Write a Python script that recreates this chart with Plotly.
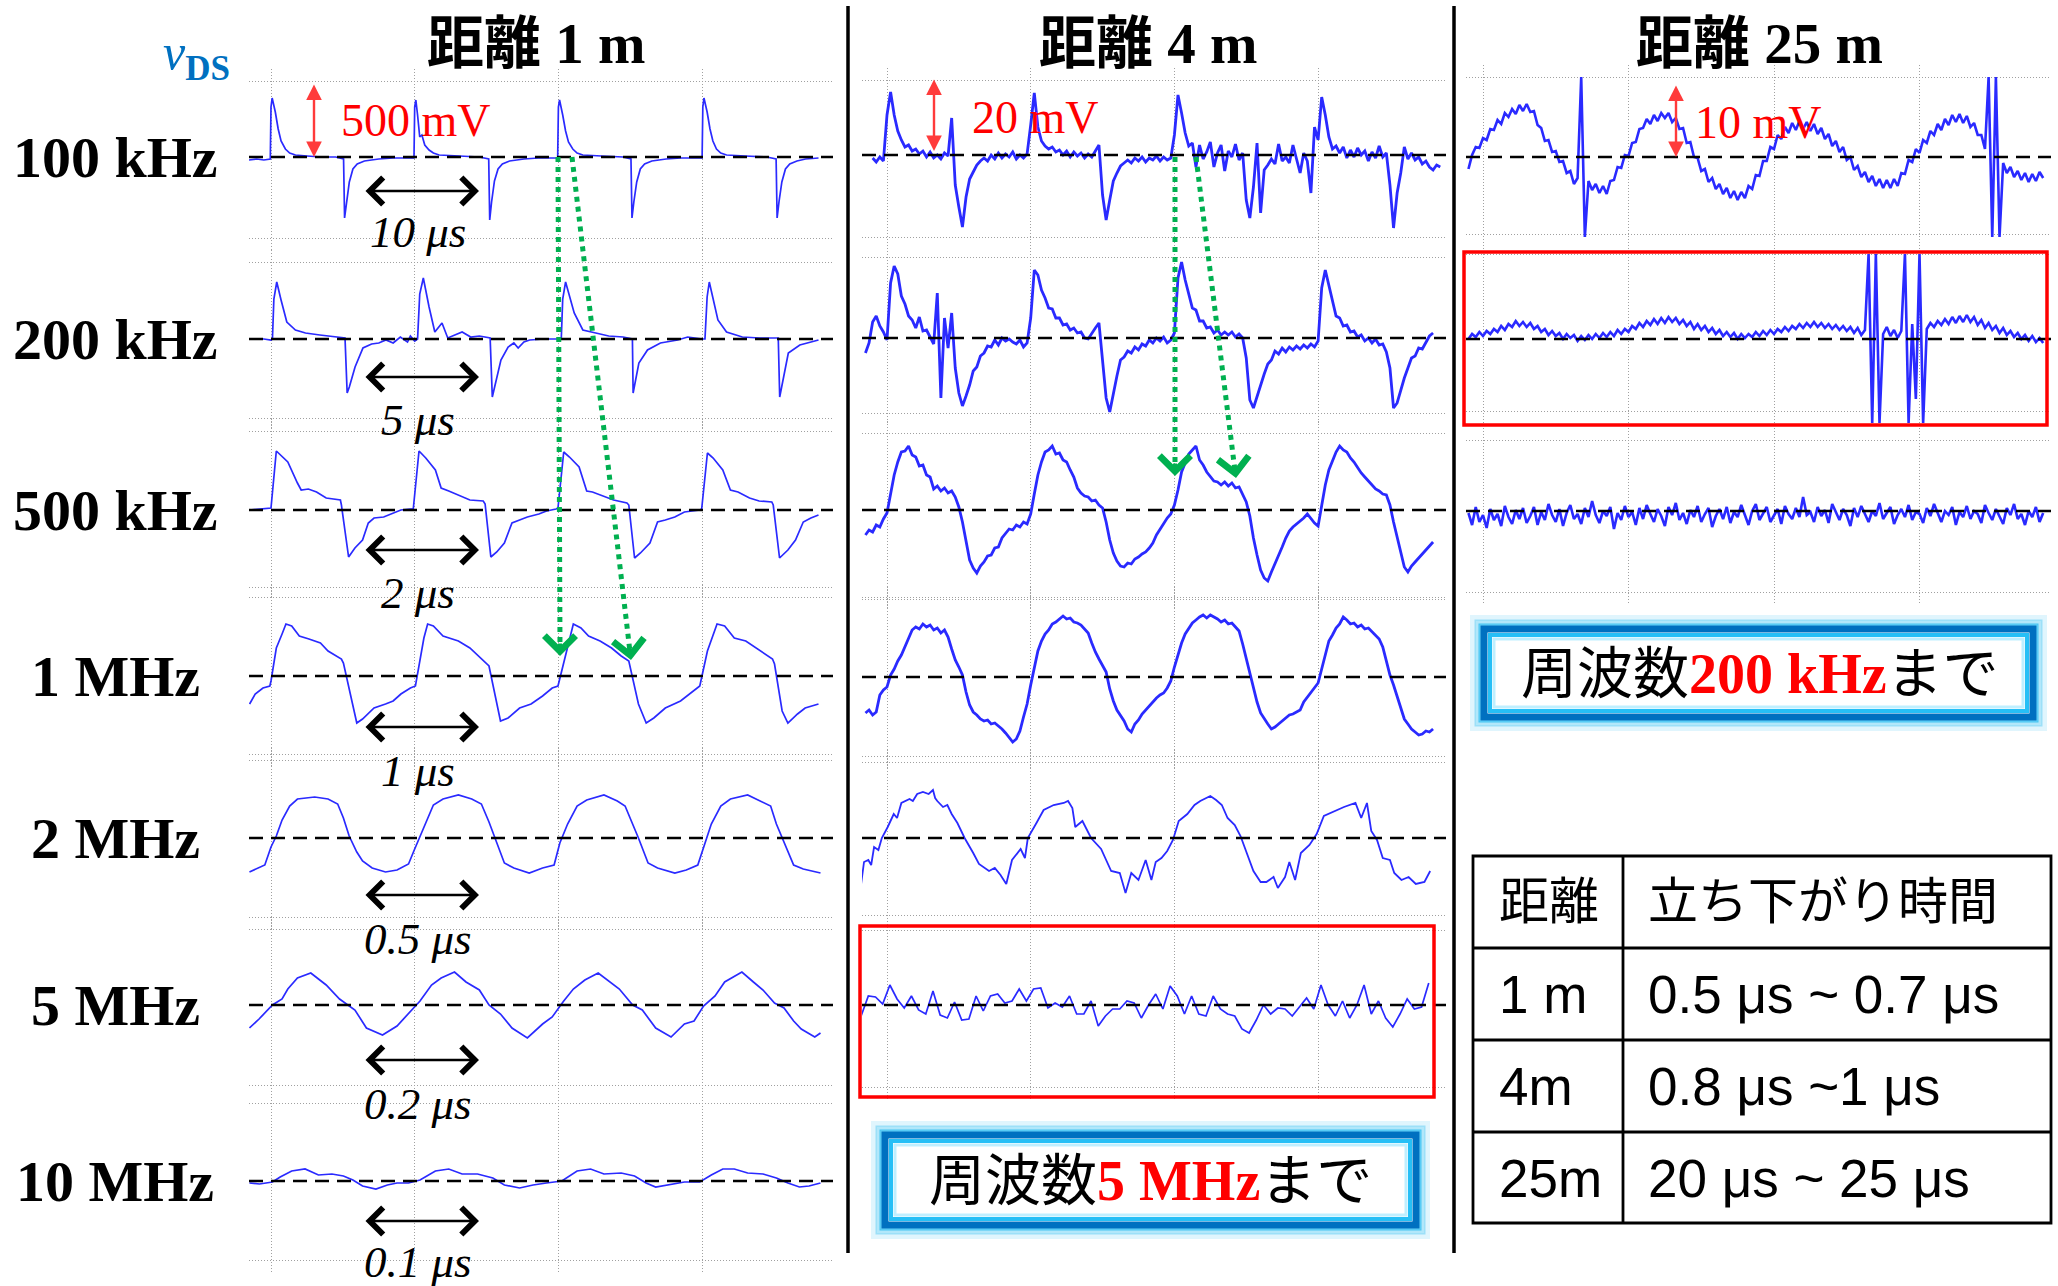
import plotly.graph_objects as go

W, H = 2058, 1286

# ================= DATA (read from the oscilloscope captures) =================
# time in grid divisions (one switching period per division), voltage in screen units (up = +)

# ---- distance 1 m : [time, value] breakpoints ----
C1_100K = [[-0.153,-3],[-0.1,-2],[-0.05,-3],[-0.005,-2],[0.0,50],[0.008,59],[0.03,45],[0.05,28],[0.07,16],[0.1,8],[0.13,4],[0.17,2],[0.25,1],[0.35,0],[0.45,0],[0.505,-2],[0.512,-61],[0.525,-45],[0.545,-25],[0.57,-12],[0.6,-7],[0.65,-4],[0.75,-2],[0.85,-1],[0.995,-1],
           [1.0,50],[1.008,57],[1.02,42],[1.035,20],[1.05,22],[1.07,12],[1.1,7],[1.13,4],[1.17,2],[1.3,1],[1.45,0],[1.515,-2],[1.522,-63],[1.535,-45],[1.555,-24],[1.58,-12],[1.61,-7],[1.66,-4],[1.76,-2],[1.86,-1],[1.995,-1],
           [2.0,50],[2.008,57],[2.03,42],[2.05,26],[2.07,15],[2.1,8],[2.13,4],[2.17,2],[2.3,1],[2.45,0],[2.505,-2],[2.512,-61],[2.525,-45],[2.545,-25],[2.57,-12],[2.6,-7],[2.65,-4],[2.75,-2],[2.85,-1],[3.0,-1],
           [3.005,50],[3.013,59],[3.035,45],[3.055,28],[3.075,16],[3.1,8],[3.13,4],[3.17,2],[3.3,1],[3.45,0],[3.515,-2],[3.522,-61],[3.535,-45],[3.555,-25],[3.58,-12],[3.61,-7],[3.66,-4],[3.72,-2],[3.81,-1]]

C1_200K = [[-0.153,0],[-0.05,0],[0.0,-1],[0.01,0],[0.02,40],[0.04,57],[0.07,39],[0.11,17],[0.17,9],[0.24,6],[0.34,4],[0.45,2],[0.515,1],[0.53,-54],[0.545,-48],[0.585,-28],[0.64,-9],[0.7,-5],[0.75,-4],[0.8,-1],[0.85,-4],[0.9,2],[0.95,-3],[0.97,3],[1.0,-2],
           [1.02,0],[1.035,45],[1.06,61],[1.1,32],[1.14,7],[1.19,16],[1.23,1],[1.28,4],[1.33,7],[1.39,2],[1.45,3],[1.525,1],[1.54,-58],[1.6,-21],[1.65,-8],[1.69,-4],[1.72,-9],[1.76,-3],[1.8,-1],[1.9,0],
           [2.02,0],[2.03,40],[2.05,57],[2.11,26],[2.17,9],[2.26,6],[2.35,3],[2.45,2],[2.515,0],[2.52,-54],[2.56,-24],[2.62,-11],[2.71,-4],[2.83,-1],[2.9,2],[3.0,0],
           [3.02,0],[3.035,42],[3.05,57],[3.11,19],[3.17,7],[3.28,2],[3.4,1],[3.53,1],[3.54,-58],[3.6,-14],[3.68,-6],[3.81,-1]]

C1_500K = [[-0.15,0],[-0.01,2],[0.0,2],[0.037,59],[0.077,53],[0.117,48],[0.184,27],[0.21,20],[0.26,21],[0.317,18],[0.384,12],[0.47,10],[0.483,10],[0.49,5],[0.54,-47],[0.584,-38],[0.637,-30],[0.677,-13],[0.717,-8],[0.784,-7],[0.85,-3],[0.904,0],[0.97,1],
           [0.99,1],[1.03,59],[1.077,52],[1.144,40],[1.184,22],[1.237,19],[1.304,15],[1.384,10],[1.477,9],[1.49,6],[1.53,-47],[1.571,-42],[1.624,-33],[1.677,-13],[1.73,-10],[1.784,-7],[1.864,-4],[1.917,-1],[1.984,1],
           [1.997,2],[2.037,58],[2.077,53],[2.144,43],[2.197,19],[2.237,18],[2.304,14],[2.384,10],[2.477,7],[2.49,5],[2.53,-48],[2.571,-43],[2.637,-33],[2.69,-12],[2.744,-10],[2.81,-7],[2.877,-2],[2.984,0],
           [2.997,1],[3.037,57],[3.077,52],[3.144,40],[3.197,20],[3.25,18],[3.33,12],[3.397,9],[3.485,8],[3.495,5],[3.539,-48],[3.597,-40],[3.65,-30],[3.704,-12],[3.757,-8],[3.81,-5]]

C1_1M = [[-0.149,-28],[-0.11,-18],[-0.056,-12],[-0.008,-10],[0.0,-5],[0.037,28],[0.077,42],[0.104,52],[0.144,50],[0.197,40],[0.264,37],[0.344,33],[0.397,25],[0.49,17],[0.504,13],[0.557,-22],[0.597,-47],[0.637,-43],[0.717,-32],[0.797,-28],[0.85,-25],[0.904,-18],[0.97,-12],[1.005,-10],
         [1.064,38],[1.09,52],[1.13,50],[1.197,40],[1.304,35],[1.384,28],[1.464,17],[1.517,10],[1.597,-45],[1.65,-42],[1.73,-32],[1.81,-28],[1.89,-20],[1.957,-12],[1.997,-10],
         [2.05,22],[2.104,52],[2.157,48],[2.21,40],[2.29,35],[2.37,28],[2.437,20],[2.49,15],[2.557,-28],[2.611,-47],[2.664,-42],[2.744,-32],[2.85,-25],[2.93,-16],[2.984,-10],
         [3.037,25],[3.104,52],[3.157,50],[3.224,38],[3.304,35],[3.41,25],[3.49,17],[3.504,12],[3.557,-35],[3.597,-47],[3.664,-38],[3.717,-32],[3.77,-30],[3.81,-28]]

C1_2M = [[-0.15,-34],[-0.043,-27],[0.0,-9],[0.037,2],[0.077,18],[0.13,32],[0.184,39],[0.304,41],[0.397,39],[0.464,34],[0.504,20],[0.544,2],[0.597,-14],[0.637,-23],[0.704,-30],[0.797,-34],[0.877,-32],[0.957,-26],
         [0.997,-12],[1.037,2],[1.077,16],[1.13,33],[1.197,39],[1.304,43],[1.397,39],[1.464,34],[1.517,16],[1.557,0],[1.624,-25],[1.69,-30],[1.797,-35],[1.89,-30],[1.97,-27],
         [2.01,-5],[2.064,14],[2.13,32],[2.197,38],[2.317,43],[2.41,37],[2.464,32],[2.517,14],[2.557,0],[2.624,-25],[2.69,-30],[2.81,-35],[2.89,-32],[2.97,-27],
         [3.01,-9],[3.064,14],[3.13,32],[3.197,39],[3.317,43],[3.41,37],[3.477,32],[3.517,14],[3.557,0],[3.637,-27],[3.704,-31],[3.824,-35]]

C1_5M = [[-0.15,-23],[-0.083,-14],[0.01,0],[0.077,6],[0.117,16],[0.184,27],[0.277,32],[0.384,20],[0.477,6],[0.584,-5],[0.664,-23],[0.776,-30],[0.877,-21],[0.957,-9],
         [1.037,4],[1.117,20],[1.184,27],[1.277,33],[1.357,23],[1.45,15],[1.517,0],[1.597,-9],[1.677,-23],[1.784,-33],[1.89,-19],[1.957,-12],
         [2.037,4],[2.104,16],[2.184,25],[2.277,32],[2.357,23],[2.424,16],[2.517,0],[2.584,-5],[2.677,-23],[2.784,-32],[2.877,-19],[2.944,-16],
         [3.01,-1],[3.09,9],[3.157,23],[3.277,33],[3.357,23],[3.424,15],[3.504,2],[3.57,-3],[3.637,-16],[3.69,-24],[3.784,-32],[3.824,-28]]

C1_10M = [[-0.15,-2],[-0.08,-3],[0.01,-1],[0.064,4],[0.144,10],[0.237,12],[0.33,6],[0.424,7],[0.504,5],[0.57,1],[0.637,-5],[0.73,-8],[0.81,-4],[0.877,-2],[0.957,-2],
          [1.037,1],[1.144,10],[1.237,12],[1.33,7],[1.437,7],[1.544,3],[1.624,-4],[1.73,-7],[1.824,-4],[1.917,-2],
          [2.024,0],[2.13,10],[2.224,12],[2.317,7],[2.437,8],[2.53,5],[2.61,-2],[2.677,-6],[2.77,-4],[2.877,-1],[2.984,-1],
          [3.064,6],[3.144,12],[3.224,12],[3.317,8],[3.424,7],[3.517,3],[3.597,-2],[3.677,-6],[3.744,-5],[3.824,-2]]

# ---- distance 4 m : evenly sampled records ----
C2_100K = [-3,-7,-2,-6,40,63,40,24,15,8,10,4,6,1,4,-2,3,-3,0,-4,2,-1,37,-30,-52,-72,-42,-24,-17,-10,-6,-3,-6,0,-4,2,-3,1,-2,3,-4,0,-3,1,
           30,62,28,14,9,6,8,3,5,0,4,-2,3,-1,2,-3,1,-2,4,10,-40,-65,-45,-26,-18,-11,-8,-5,-8,-3,-6,-2,-7,-3,-5,-1,-6,-2,-5,-3,
           20,60,42,22,9,12,-12,10,-4,3,13,-12,2,10,-16,4,-2,11,-5,2,-45,-63,-32,12,-58,-15,-10,-4,-9,11,-6,-2,-8,10,-4,-18,2,-6,-38,28,
           15,58,40,18,6,9,2,8,-3,5,-2,7,0,4,-6,3,-3,9,-2,2,-30,-73,-38,-18,8,-4,2,-5,-2,-9,-6,-12,-15,-10,-12]

C2_200K = [-15,-5,16,22,12,6,-2,55,72,64,42,34,22,18,10,21,7,8,1,-6,45,-60,20,-10,25,-30,-55,-68,-58,-47,-33,-29,-18,-15,-8,-9,-2,-7,0,-3,-1,-4,-6,-2,-9,-5,
           20,68,63,48,40,30,29,20,20,13,14,8,10,5,6,0,-1,5,10,15,-20,-60,-74,-55,-38,-22,-19,-13,-15,-9,-12,-6,-8,-2,-5,0,-3,1,-5,-2,
           5,60,76,58,45,30,28,17,17,10,11,5,8,3,6,3,6,1,4,0,-20,-62,-70,-58,-48,-36,-26,-22,-13,-16,-10,-14,-9,-12,-8,-11,-7,-10,-6,-9,
           -3,50,68,52,36,22,20,12,13,6,7,1,3,-3,0,-5,-1,-7,-6,-14,-30,-70,-65,-52,-40,-30,-20,-18,-10,-11,-4,2,5]

C2_500K = [-25,-20,-22,-15,-17,-9,-3,18,35,48,58,59,64,55,53,44,45,35,33,21,24,19,22,17,19,13,3,-12,-32,-50,-58,-63,-56,-52,-46,-45,-38,-37,-28,-24,-19,-20,-15,-17,-12,-14,
           -4,16,35,48,58,60,64,56,57,50,48,40,33,22,17,14,13,9,10,5,2,-12,-30,-43,-51,-56,-57,-53,-54,-49,-47,-44,-42,-38,-33,-25,-19,-13,-8,-4,
           5,20,38,47,56,60,64,50,45,38,34,29,28,25,28,24,27,22,23,16,8,-6,-28,-45,-60,-68,-71,-62,-53,-45,-37,-28,-21,-17,-14,-11,-8,-4,-9,-13,
           -16,5,25,40,50,58,64,60,58,52,48,42,37,33,29,25,21,19,16,15,5,-12,-27,-45,-57,-62,-56,-52,-48,-44,-40,-36,-32]

C2_1M = [-36,-33,-38,-35,-18,-13,-10,2,8,16,22,30,38,47,50,48,53,50,52,47,49,44,47,40,28,17,10,2,-15,-28,-35,-38,-42,-44,-43,-47,-46,-49,-52,-56,-60,-65,-62,-54,-40,-27,
         -8,10,26,36,43,47,53,55,58,61,58,59,55,54,52,48,44,34,25,18,11,5,-12,-24,-33,-38,-44,-52,-55,-47,-43,-37,-33,-29,-24,-21,-18,-16,-11,-4,
         10,22,34,43,48,54,57,60,62,59,62,60,58,55,57,53,54,50,46,33,18,4,-10,-25,-36,-42,-47,-52,-50,-47,-44,-41,-38,-37,-35,-33,-25,-20,-15,-11,
         -6,8,22,36,42,49,53,60,57,53,54,50,52,48,49,45,42,38,30,17,2,-8,-20,-30,-42,-47,-52,-55,-58,-57,-54,-55,-52]

C2_2M = [[-0.18,-46],[-0.16,-24],[-0.13,-22],[-0.11,-27],[-0.09,-9],[-0.06,-12],[-0.036,0],[0.005,11],[0.047,24],[0.07,20],[0.1,35],[0.157,39],[0.18,37],[0.21,44],[0.25,46],[0.29,44],[0.32,48],[0.335,40],[0.35,37],[0.39,31],[0.42,33],[0.45,24],[0.49,15],[0.54,0],[0.6,-15],[0.64,-26],[0.71,-33],[0.75,-30],[0.79,-37],[0.83,-46],[0.87,-22],[0.93,-11],[0.96,-20],[0.98,0],
         [1.04,15],[1.09,28],[1.16,33],[1.23,35],[1.26,37],[1.29,30],[1.31,11],[1.36,17],[1.42,0],[1.49,-11],[1.56,-33],[1.62,-35],[1.66,-55],[1.7,-35],[1.75,-42],[1.8,-22],[1.84,-42],[1.87,-24],[1.91,-20],[1.95,-13],[1.99,-2],
         [2.03,17],[2.09,24],[2.14,33],[2.18,37],[2.25,42],[2.29,38],[2.33,33],[2.37,20],[2.42,13],[2.46,2],[2.5,-13],[2.55,-33],[2.6,-44],[2.64,-44],[2.69,-39],[2.72,-50],[2.77,-39],[2.8,-24],[2.84,-42],[2.88,-15],[2.94,-7],[2.99,4],
         [3.04,22],[3.1,26],[3.18,31],[3.26,35],[3.3,20],[3.34,35],[3.37,7],[3.41,-2],[3.45,-20],[3.5,-22],[3.53,-35],[3.58,-42],[3.63,-39],[3.68,-46],[3.74,-44],[3.78,-33]]

C2_5M = [-11,9,8,1,20,6,-3,9,-5,-9,14,-10,-13,3,-15,-14,9,-6,9,11,2,4,16,4,16,17,-3,2,-2,9,-9,-9,4,-21,-11,-4,-4,4,2,-13,
         0,11,-4,19,9,-9,9,-9,-11,9,-4,-9,-11,-24,-28,-15,0,-9,-3,-4,-11,-2,7,-4,20,0,-11,4,-13,0,20,-9,4,-13,-22,-9,6,-4,-2,22]

# ---- distance 25 m : evenly sampled records ----
C3_100K = [-12,2,10,9,19,17,28,27,37,33,44,40,48,43,52,46,53,45,46,32,29,16,17,5,6,-5,-4,-16,-14,-27,-21,80,-80,-24,-33,-27,-36,-29,-37,-24,-23,-10,-11,2,
           1,14,15,28,29,38,33,42,36,44,39,44,35,39,28,29,14,15,0,-1,-14,-12,-25,-21,-32,-27,-37,-31,-41,-34,-43,-35,-41,-29,-32,-18,-19,-4,-4,10,
           8,22,18,30,24,34,27,36,28,35,26,33,23,29,18,23,11,16,5,10,-3,0,-13,-9,-20,-15,-25,-19,-29,-22,-31,-23,-31,-22,-29,-16,-17,-3,-5,8,
           4,17,14,26,22,33,27,38,32,42,35,43,34,41,30,34,22,22,8,80,-80,80,-80,-6,-16,-10,-20,-14,-23,-16,-25,-17,-24,-15,-21]

C3_200K = [0,5,2,7,3,8,5,10,7,13,9,15,12,18,13,17,12,16,10,13,7,10,4,8,3,6,0,5,1,4,-2,3,-1,4,0,5,1,6,2,7,3,9,5,10,
           7,13,10,16,12,18,14,20,15,21,16,22,17,21,15,19,13,17,10,15,9,13,7,11,5,9,3,7,2,6,0,5,1,5,2,7,3,8,4,9,
           5,10,7,12,8,13,10,15,11,16,12,17,12,16,11,15,10,14,9,13,8,12,6,11,4,9,85,-84,85,-84,5,12,3,9,1,8,85,-84,15,-60,
           85,-84,10,16,12,18,14,20,15,22,16,23,17,24,17,22,14,19,11,16,9,13,6,11,4,8,2,6,0,4,-2,3,-3,1,-4]

C3_500K = [-2,-14,4,-11,-4,-17,2,-9,-3,-15,5,-6,-13,1,-8,3,-12,-5,4,-14,-1,-9,7,-4,-11,2,-15,-2,6,-8,-3,-13,3,-6,10,-4,-12,0,-5,4,-18,-2,-9,5,
           -6,-1,-14,3,-8,6,-3,-11,2,-5,-15,4,-4,8,-9,-2,-13,1,-6,5,-11,-3,3,-16,-5,2,-8,4,-12,-1,-6,6,-4,-14,0,7,-9,-2,4,-11,-5,2,-13,5,
           -3,-8,3,-6,14,-4,-1,-11,4,-5,1,-12,7,-2,-9,2,-4,-15,3,-6,5,-3,-11,0,-5,8,-8,-2,4,-13,-4,2,-6,6,-9,-1,-3,-12,3,-5,7,-2,
           -11,0,-4,4,-14,-1,-6,5,-8,0,-3,-12,6,-2,-9,2,-5,-13,3,-4,7,-8,-3,-14,0,-6,4,-11,-2]

ROW_LABELS = ["100 kHz", "200 kHz", "500 kHz", "1 MHz", "2 MHz", "5 MHz", "10 MHz"]
PERIOD_LABELS = ["10 μs", "5 μs", "2 μs", "1 μs", "0.5 μs", "0.2 μs", "0.1 μs"]
TITLES = ["距離 1 m", "距離 4 m", "距離 25 m"]
SCALE_LABELS = ["500 mV", "20 mV", "10 mV"]
TABLE_HEAD = ["距離", "立ち下がり時間"]
TABLE_ROWS = [["1 m", "0.5 μs ~ 0.7 μs"], ["4m", "0.8 μs ~1 μs"], ["25m", "20 μs ~ 25 μs"]]

# ================= LAYOUT =================
SERIF = "Liberation Serif, Noto Sans CJK JP, serif"
SANS = "Liberation Sans, Noto Sans CJK JP, sans-serif"
BLUE = "#2a2aff"

COLS = {1: dict(left=249, right=833, g0=271, dv=143.7),
        2: dict(left=862, right=1446, g0=887, dv=143.7),
        3: dict(left=1466, right=2051, g0=1483, dv=145.5)}

PANELS = [
    dict(d=C1_100K, col=1, top=81, base=157, bot=238, w=1.7),
    dict(d=C1_200K, col=1, top=262, base=339, bot=418, w=1.7),
    dict(d=C1_500K, col=1, top=431, base=510, bot=587, w=1.7),
    dict(d=C1_1M, col=1, top=597, base=676, bot=754, w=1.7),
    dict(d=C1_2M, col=1, top=760, base=838, bot=917, w=1.7),
    dict(d=C1_5M, col=1, top=929, base=1005, bot=1085, w=1.7),
    dict(d=C1_10M, col=1, top=1103, base=1181, bot=1260, w=1.7),
    dict(d=C2_100K, t0=-0.1, t1=3.85, col=2, top=80, base=155, bot=237, w=2.8),
    dict(d=C2_200K, t0=-0.15, t1=3.8, col=2, top=257, base=338, bot=413, w=2.8),
    dict(d=C2_500K, t0=-0.15, t1=3.8, col=2, top=433, base=510, bot=597, w=2.8),
    dict(d=C2_1M, t0=-0.15, t1=3.8, col=2, top=599, base=677, bot=756, w=2.8),
    dict(d=C2_2M, col=2, top=762, base=838, bot=915, w=1.8),
    dict(d=C2_5M, t0=-0.18, t1=3.77, col=2, top=930, base=1005, bot=1087, w=1.7),
    dict(d=C3_100K, t0=-0.1, t1=3.85, col=3, top=77, base=157, bot=234, w=2.6),
    dict(d=C3_200K, t0=-0.1, t1=3.85, col=3, top=254, base=339, bot=411, w=2.6),
    dict(d=C3_500K, t0=-0.1, t1=3.85, col=3, top=440, base=511, bot=592, w=2.6),
]

fig = go.Figure()
layout = {}
shapes = []
annotations = []
PAD = 12

for n, p in enumerate(PANELS, start=1):
    c = COLS[p['col']]
    d = p['d']
    if isinstance(d[0], list):
        t = [q[0] for q in d]
        v = [q[1] for q in d]
    else:
        m = len(d)
        t = [p['t0'] + (p['t1'] - p['t0']) * i / (m - 1) for i in range(m)]
        v = d
    xa = 'x' if n == 1 else f'x{n}'
    ya = 'y' if n == 1 else f'y{n}'
    fig.add_trace(go.Scatter(x=t, y=v, mode='lines', xaxis=xa, yaxis=ya,
                             line=dict(color=BLUE, width=p['w']), hoverinfo='skip', showlegend=False))
    xr = [(c['left'] - c['g0']) / c['dv'], (c['right'] - c['g0']) / c['dv']]
    yr = [-(p['bot'] + PAD - p['base']), p['base'] - (p['top'] - PAD)]
    layout['xaxis' if n == 1 else f'xaxis{n}'] = dict(
        domain=[c['left'] / W, c['right'] / W], range=xr, anchor=ya,
        tickvals=[0, 1, 2, 3], showgrid=True, gridcolor='#a0a0a0', gridwidth=1, griddash='1px,2px',
        showticklabels=False, ticks='', zeroline=False, showline=False, fixedrange=True)
    layout['yaxis' if n == 1 else f'yaxis{n}'] = dict(
        domain=[1 - (p['bot'] + PAD) / H, 1 - (p['top'] - PAD) / H], range=yr, anchor=xa,
        tickvals=[-(p['bot'] - p['base']), p['base'] - p['top']], showgrid=True, gridcolor='#a0a0a0',
        gridwidth=1, griddash='1px,2px', showticklabels=False, ticks='', zeroline=False,
        showline=False, fixedrange=True)
    shapes.append(dict(type='line', xref=xa, yref=ya, x0=xr[0], x1=xr[1], y0=0, y1=0,
                       line=dict(color='black', width=2.6, dash='14px,8px'), layer='above'))


def px(x):
    return x / W


def py(y):
    return 1 - y / H


def line(x0, y0, x1, y1, color='black', width=3, dash=None):
    ln = dict(color=color, width=width)
    if dash:
        ln['dash'] = dash
    shapes.append(dict(type='line', xref='paper', yref='paper', x0=px(x0), y0=py(y0), x1=px(x1), y1=py(y1), line=ln))


def rect(x0, y0, x1, y1, color, width, fill=None):
    s = dict(type='rect', xref='paper', yref='paper', x0=px(x0), y0=py(y0), x1=px(x1), y1=py(y1),
             line=dict(color=color, width=width))
    if fill:
        s['fillcolor'] = fill
    shapes.append(s)


def text(s, x, y, size, family=SERIF, color='black', xanchor='center'):
    annotations.append(dict(text=s, x=px(x), y=py(y), xref='paper', yref='paper', showarrow=False,
                            xanchor=xanchor, yanchor='middle', font=dict(size=size, family=family, color=color)))


def arrow(x0, y0, x1, y1, color, width, head, size, both=True):
    annotations.append(dict(text='', x=px(x1), y=py(y1), xref='paper', yref='paper', showarrow=True,
                            ax=x0 - x1, ay=y0 - y1, axref='pixel', ayref='pixel',
                            arrowhead=head, startarrowhead=head, arrowside='end+start' if both else 'end',
                            arrowwidth=width, arrowsize=size, startarrowsize=size, arrowcolor=color,
                            font=dict(size=10)))


# column separators
line(848, 6, 848, 1253, width=3.5)
line(1454, 6, 1454, 1253, width=3.5)

# titles and v_DS
for s, x in zip(TITLES, [536, 1148, 1759]):
    text('<b>' + s + '</b>', x, 43, 57)
text('<i>v</i><sub><b>DS</b></sub>', 196, 56, 50, color='#0070C0')

# row labels (col 1 baselines)
for s, p in zip(ROW_LABELS, PANELS[:7]):
    text('<b>' + s + '</b>', 115, p['base'], 58)

# period arrows and labels
ARROW_Y = [191, 377, 550, 727, 895, 1060, 1221]
LABEL_Y = [232, 420, 593, 771, 939, 1104, 1262]
for s, ay_, ly in zip(PERIOD_LABELS, ARROW_Y, LABEL_Y):
    arrow(364, ay_, 479, ay_, 'black', 2.6, 4, 2.0)
    text('<i>' + s + '</i>', 418, ly, 45)

# voltage scale arrows
for (x, y0, y1), s, (tx, ty) in zip([(314, 83, 157), (934, 78, 151), (1676, 84, 157)], SCALE_LABELS,
                                     [(416, 121), (1035, 117), (1758, 122)]):
    arrow(x, y0, x, y1, '#ff3b3b', 2.4, 2, 1.3)
    text(s, tx, ty, 46, color='#ff0000')

# green dotted arrows (propagation delay)
GREEN = '#00b050'
for (x0, y0, x1, y1) in [(558, 157, 560, 648), (572, 157, 630, 652), (1175, 157, 1175, 469), (1196, 157, 1235, 471)]:
    line(x0, y0, x1, y1, color=GREEN, width=5, dash='dot')
for (x1, y1, dx) in [(560, 656, 0), (631, 660, -1.7), (1175, 476, 0), (1236, 478, -1.8)]:
    arrow(x1 + dx, y1 - 14, x1, y1, GREEN, 4, 4, 1.5, both=False)

# red highlight boxes
rect(860, 926, 1434, 1097, '#ff0000', 3.5)
rect(1464, 252, 2047, 425, '#ff0000', 3.5)


# glowing blue boxes
def glow_box(x0, y0, x1, y1):
    for g, col, w in [(11, 'rgba(0,176,240,0.12)', 6), (7, 'rgba(0,176,240,0.3)', 5), (4, 'rgba(0,176,240,0.6)', 3)]:
        rect(x0 - g, y0 - g, x1 + g, y1 + g, col, w)
    rect(x0, y0, x1, y1, '#0070c0', 7, fill='white')
    rect(x0 + 6, y0 + 6, x1 - 6, y1 - 6, 'rgba(0,180,245,0.85)', 4)
    rect(x0 + 10, y0 + 10, x1 - 10, y1 - 10, 'rgba(0,190,255,0.25)', 3)


glow_box(885, 1135, 1416, 1225)
glow_box(1484, 629, 2033, 717)
text('周波数<span style="color:#ff0000"><b>5 MHz</b></span>まで', 1150, 1181, 56)
text('周波数<span style="color:#ff0000"><b>200 kHz</b></span>まで', 1760, 674, 56)

# table
rect(1473, 856, 2051, 1223, 'black', 2.8)
line(1623, 856, 1623, 1223, width=2.8)
for y in [948, 1040, 1132]:
    line(1473, y, 2051, y, width=2.8)
text(TABLE_HEAD[0], 1497, 902, 50, family=SANS, xanchor='left')
text(TABLE_HEAD[1], 1646, 902, 50, family=SANS, xanchor='left')
for (a, b), y in zip(TABLE_ROWS, [994, 1086, 1178]):
    text(a, 1497, y, 53, family=SANS, xanchor='left')
    text(b, 1646, y, 53, family=SANS, xanchor='left')

layout.update(dict(width=W, height=H, autosize=False, margin=dict(l=0, r=0, t=0, b=0),
                   paper_bgcolor='white', plot_bgcolor='rgba(0,0,0,0)',
                   shapes=shapes, annotations=annotations, showlegend=False))
fig.update_layout(**layout)
fig.write_html("out.html", config={'displayModeBar': False, 'staticPlot': True},
               post_script="document.body.style.margin='0';document.body.style.overflow='hidden';")
